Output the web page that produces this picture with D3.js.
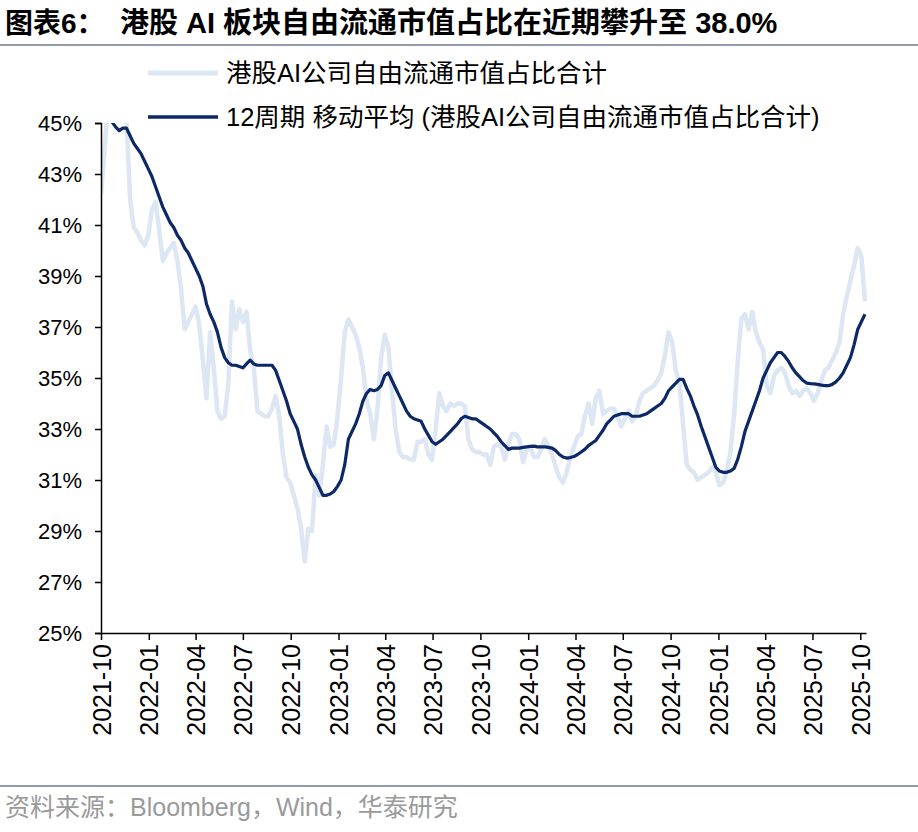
<!DOCTYPE html>
<html><head><meta charset="utf-8">
<script src="https://cdn.jsdelivr.net/npm/d3@7"></script>
<style>
body{margin:0;background:#fff;}
svg{display:block;font-family:"Liberation Sans","Noto Sans CJK SC",sans-serif;}
</style></head>
<body>
<svg id="chart" width="918" height="832"></svg>
<script>
const startDate = "2021-10-01";
const endDate = "2025-10-12";
const tickLabels = ["2021-10","2022-01","2022-04","2022-07","2022-10","2023-01","2023-04","2023-07","2023-10","2024-01","2024-04","2024-07","2024-10","2025-01","2025-04","2025-07","2025-10"];
const yTicks = [25,27,29,31,33,35,37,39,41,43,45];
const seriesNames = ["港股AI公司自由流通市值占比合计","12周期 移动平均 (港股AI公司自由流通市值占比合计)"];
// weekly values (%)
const rawShare = [42.2,44.0,46.0,46.5,47.0,46.5,46.0,45.2,42.0,40.9,40.7,40.4,40.2,40.6,41.6,41.9,40.8,39.6,39.9,40.1,
40.3,39.6,38.5,36.9,37.2,37.5,37.8,37.1,35.7,34.2,36.8,35.4,33.7,33.4,33.5,34.8,38.0,36.9,37.7,37.2,
37.6,36.1,35.4,33.7,33.6,33.5,33.5,33.8,34.3,33.5,32.0,31.1,30.9,30.4,29.9,29.1,27.8,29.1,29.0,31.2,
30.4,31.6,33.1,32.3,32.4,33.5,35.0,36.8,37.3,37.0,36.7,36.2,35.4,34.1,33.6,32.6,33.8,35.8,36.7,36.2,
34.5,33.0,32.1,31.9,31.9,31.8,31.8,32.5,32.5,32.6,32.0,31.8,33.0,34.4,33.9,33.7,34.0,33.9,34.0,34.0,
33.9,32.6,32.2,32.1,32.1,32.0,32.0,31.6,32.3,32.4,32.3,31.8,32.4,32.8,32.8,32.6,31.7,32.2,32.3,31.9,
31.9,32.2,32.6,32.3,32.0,31.5,31.1,30.9,31.3,31.9,32.3,32.7,32.8,33.5,34.0,33.2,34.2,34.5,33.6,33.7,
33.8,33.8,33.5,33.1,33.4,33.7,33.3,33.5,34.1,34.4,34.5,34.6,34.7,34.9,35.2,35.9,36.8,36.4,35.3,34.8,
33.2,31.6,31.4,31.3,31.0,31.1,31.2,31.3,31.5,31.3,30.8,30.9,31.3,32.1,33.5,35.6,37.3,37.5,36.9,37.6,
36.8,36.4,36.1,34.7,34.4,35.1,35.3,35.4,35.2,34.7,34.4,34.5,34.3,34.5,34.6,34.4,34.1,34.4,34.9,35.3,
35.4,35.7,36.0,36.4,37.5,38.2,38.8,39.4,40.1,39.8,38.0];
const movingAvg = [45.8,45.6,45.3,45.05,44.85,44.7,44.8,44.8,44.5,44.2,44.0,43.8,43.5,43.2,42.9,42.5,42.1,41.7,41.4,41.1,
40.9,40.6,40.4,40.1,39.9,39.6,39.3,39.0,38.6,37.9,37.5,37.2,36.8,36.2,35.8,35.6,35.5,35.5,35.45,35.4,
35.55,35.7,35.55,35.5,35.5,35.5,35.5,35.5,35.3,34.9,34.5,34.1,33.6,33.3,33.0,32.4,31.9,31.5,31.2,31.0,
30.7,30.4,30.4,30.45,30.55,30.75,31.0,31.6,32.6,32.9,33.2,33.6,34.1,34.4,34.55,34.5,34.55,34.7,35.1,35.2,
34.9,34.6,34.3,34.0,33.7,33.5,33.4,33.35,33.3,33.0,32.75,32.5,32.4,32.5,32.6,32.75,32.9,33.05,33.2,33.4,
33.5,33.45,33.4,33.4,33.3,33.2,33.1,33.0,32.85,32.7,32.5,32.35,32.2,32.25,32.25,32.25,32.28,32.3,32.32,32.33,
32.3,32.3,32.3,32.28,32.25,32.15,32.0,31.9,31.86,31.88,31.92,32.0,32.1,32.2,32.35,32.45,32.55,32.75,32.95,33.2,
33.35,33.5,33.55,33.6,33.6,33.6,33.5,33.5,33.5,33.55,33.6,33.7,33.8,33.9,34.0,34.2,34.5,34.65,34.8,34.95,
34.95,34.6,34.3,33.9,33.55,33.1,32.7,32.3,31.9,31.5,31.35,31.3,31.3,31.35,31.45,31.8,32.3,32.9,33.3,33.7,
34.1,34.5,35.0,35.3,35.6,35.8,36.0,36.0,35.85,35.65,35.4,35.2,35.05,34.9,34.8,34.78,34.77,34.75,34.72,34.7,
34.7,34.75,34.85,35.0,35.2,35.5,35.8,36.3,36.9,37.2,37.5];

const svg = d3.select("#chart");
const parse = d3.timeParse("%Y-%m-%d");
const parseM = d3.timeParse("%Y-%m");
const t0 = parse(startDate);
const dates = rawShare.map((_, i) => d3.timeWeek.offset(t0, i));

const x = d3.scaleTime().domain([t0, parse(endDate)]).range([101, 866]);
const y = d3.scaleLinear().domain([25, 45]).range([633, 123]);

// title
svg.append("text").attr("x", 5).attr("y", 33).attr("font-size", 28).attr("font-weight", "bold")
  .attr("fill", "#000").text("图表6：");
svg.append("text").attr("x", 120).attr("y", 33).attr("font-size", 29).attr("font-weight", "bold")
  .attr("fill", "#000").text("港股 AI 板块自由流通市值占比在近期攀升至 38.0%");
svg.append("line").attr("x1", 0).attr("x2", 918).attr("y1", 45).attr("y2", 45)
  .attr("stroke", "#8f9bb0").attr("stroke-width", 2);

// legend
const legendY = [73, 117];
const legendColors = ["#dce7f3", "#0c2866"];
const legendW = [5, 3.5];
seriesNames.forEach((n, i) => {
  svg.append("line").attr("x1", 148).attr("x2", 218).attr("y1", legendY[i]).attr("y2", legendY[i])
    .attr("stroke", legendColors[i]).attr("stroke-width", legendW[i]);
  svg.append("text").attr("x", 226).attr("y", legendY[i] + 9).attr("font-size", 25.5)
    .attr("fill", "#000").text(n);
});

// clip
svg.append("clipPath").attr("id", "clip").append("rect")
  .attr("x", 101).attr("y", 123).attr("width", 770).attr("height", 510);

const line = d3.line().x((d, i) => x(dates[i])).y(d => y(d));
const g = svg.append("g").attr("clip-path", "url(#clip)");
g.append("path").datum(rawShare).attr("d", line).attr("fill", "none")
  .attr("stroke", legendColors[0]).attr("stroke-width", 4.5).attr("stroke-linejoin", "round");
g.append("path").datum(movingAvg).attr("d", line).attr("fill", "none")
  .attr("stroke", legendColors[1]).attr("stroke-width", 3.2).attr("stroke-linejoin", "round");

// y axis
const yAxis = svg.append("g").attr("transform", "translate(101,0)")
  .call(d3.axisLeft(y).tickValues(yTicks).tickSize(6).tickFormat(d => d + "%"));
yAxis.select(".domain").attr("stroke", "#000").attr("stroke-width", 1.5);
yAxis.selectAll(".tick line").attr("stroke", "#000").attr("stroke-width", 1.5);
yAxis.selectAll(".tick text").attr("font-size", 22).attr("fill", "#000")
  .attr("font-family", "Liberation Sans, Arial, sans-serif").attr("x", -19);

// x axis
const xAxis = svg.append("g").attr("transform", "translate(0,633)")
  .call(d3.axisBottom(x).tickValues(tickLabels.map(parseM)).tickSize(7).tickSizeOuter(0)
    .tickFormat(d3.timeFormat("%Y-%m")));
xAxis.select(".domain").attr("stroke", "#000").attr("stroke-width", 1.5);
xAxis.selectAll(".tick line").attr("stroke", "#000").attr("stroke-width", 1.5);
xAxis.selectAll(".tick text").attr("font-size", 25).attr("fill", "#000")
  .attr("font-family", "Liberation Sans, Arial, sans-serif")
  .attr("transform", "rotate(-90)").attr("text-anchor", "end")
  .attr("x", -11).attr("y", 0).attr("dy", "0.36em").attr("dx", 0);

// footer
svg.append("line").attr("x1", 0).attr("x2", 918).attr("y1", 786).attr("y2", 786)
  .attr("stroke", "#8f9bb0").attr("stroke-width", 2);
svg.append("text").attr("x", 5).attr("y", 816).attr("font-size", 25).attr("fill", "#9a9a9a")
  .text("资料来源：Bloomberg，Wind，华泰研究");
</script>
</body></html>
